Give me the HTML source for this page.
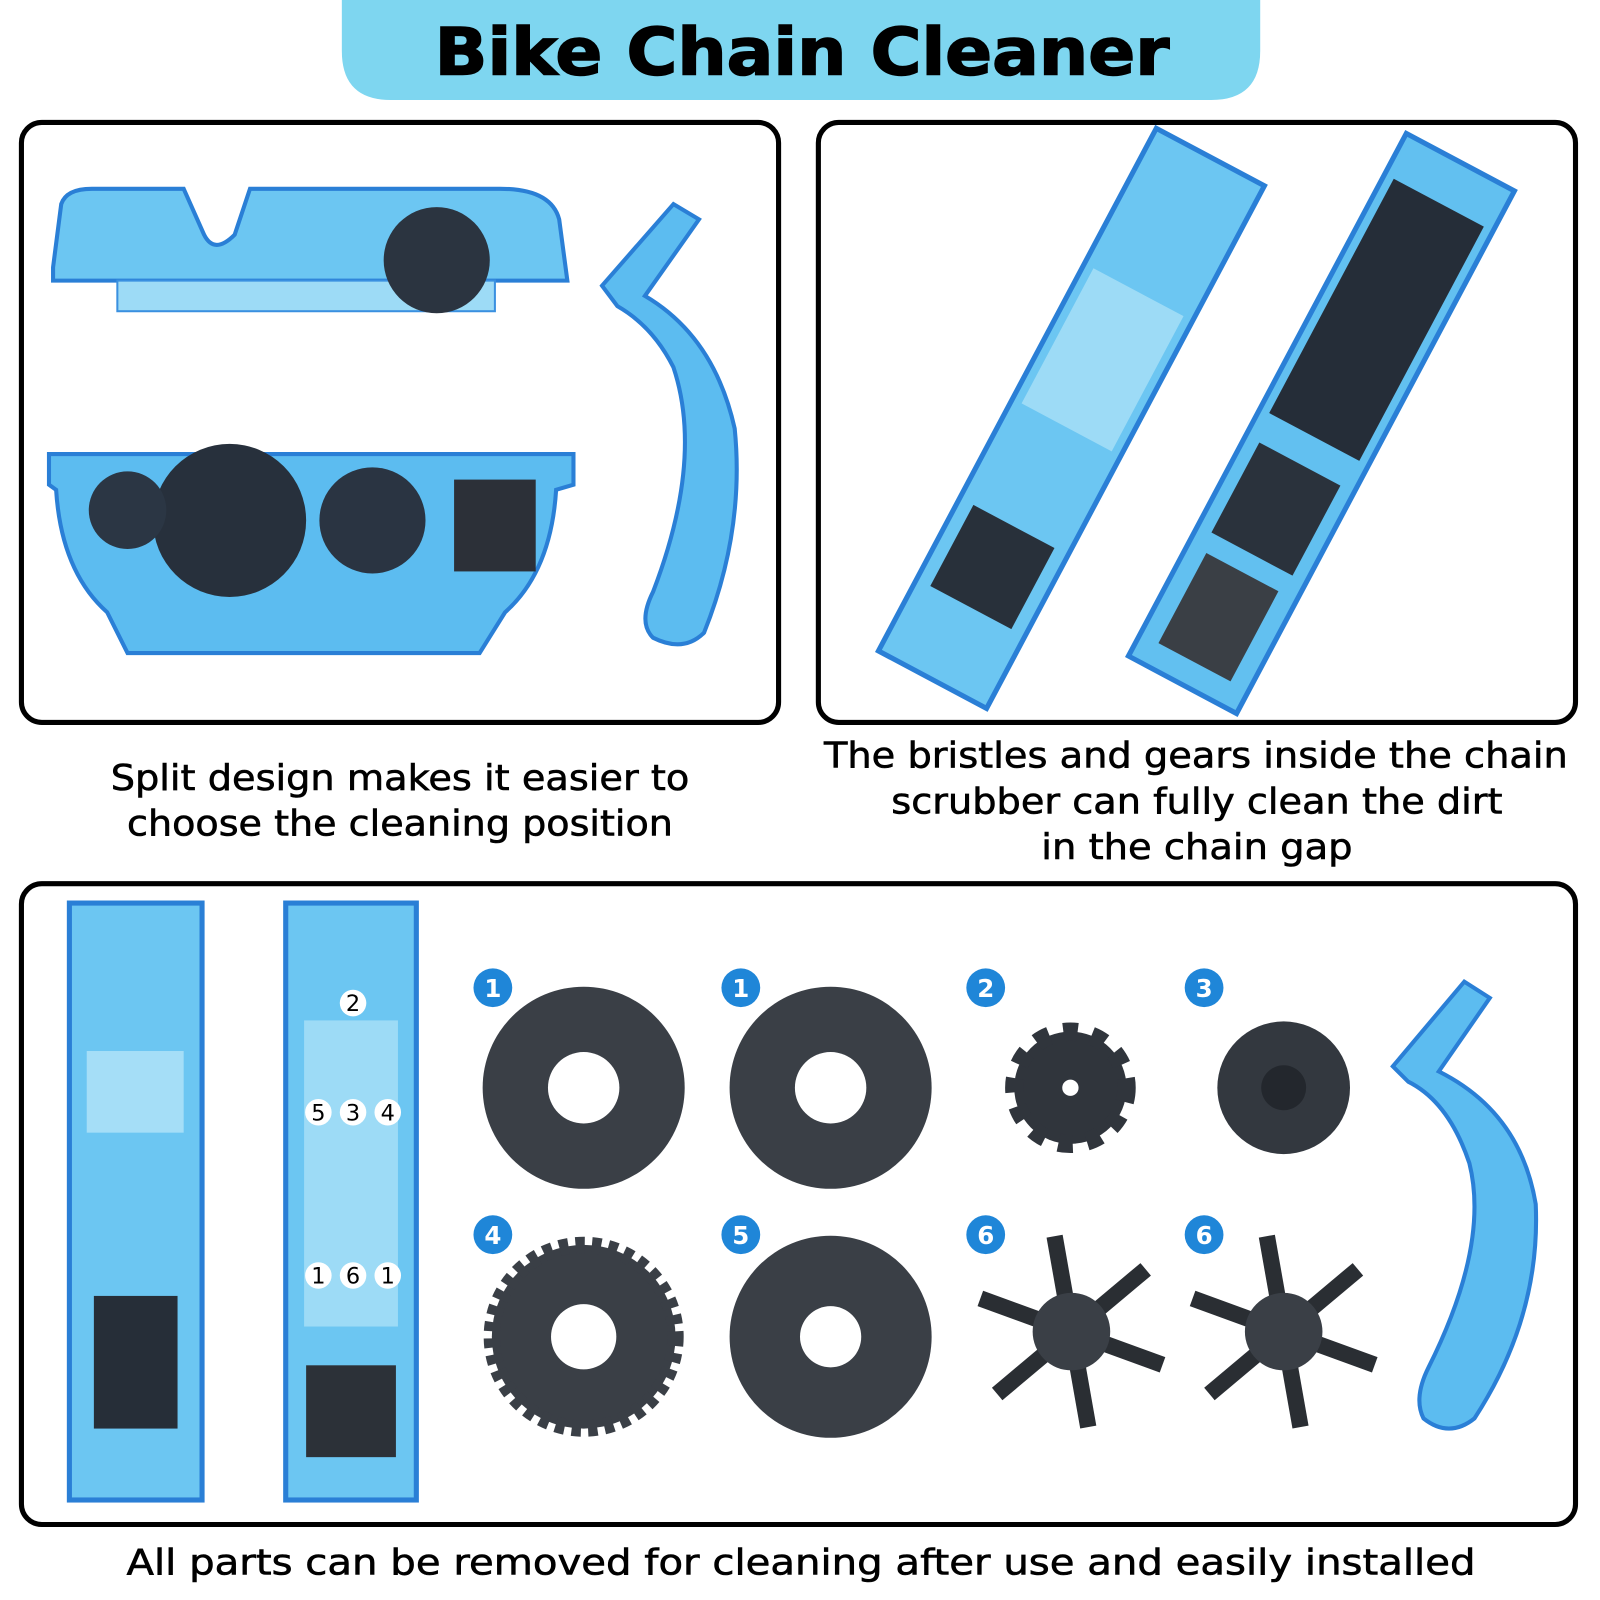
<!DOCTYPE html>
<html><head><meta charset="utf-8"><style>
html,body{margin:0;padding:0;background:#fff;width:1600px;height:1600px;overflow:hidden}
svg{display:block}
text{font-family:"DejaVu Sans","Liberation Sans",sans-serif}
</style></head><body>
<svg width="1600" height="1600" viewBox="0 0 1568 1568" xmlns="http://www.w3.org/2000/svg">
<!-- banner -->
<path d="M335 0 H1235 V50 Q1235 98 1187 98 H383 Q335 98 335 50 Z" fill="#7ed6f0"/>
<text x="786" y="73" text-anchor="middle" font-size="64" font-weight="bold" fill="#000" textLength="720" lengthAdjust="spacingAndGlyphs" stroke="#000" stroke-width="1.5">Bike Chain Cleaner</text>

<!-- panels -->
<rect x="21" y="120" width="742" height="588" rx="20" fill="#fff" stroke="#000" stroke-width="5"/>
<rect x="802" y="120" width="742" height="588" rx="20" fill="#fff" stroke="#000" stroke-width="5"/>
<rect x="21" y="866" width="1523" height="628" rx="20" fill="#fff" stroke="#000" stroke-width="5"/>

<!-- panel 1 contents -->
<path d="M52 262 L60 200 Q65 185 90 185 H180 L200 230 Q210 250 230 230 L245 185 H490 Q540 185 548 215 L556 275 H52 Z" fill="#6cc6f2" stroke="#2a7fd6" stroke-width="4"/>
<rect x="115" y="275" width="370" height="30" fill="#9ddbf6" stroke="#3a90e0" stroke-width="2"/>
<circle cx="428" cy="255" r="52" fill="#2b3440"/>
<path d="M48 445 H562 V475 L545 480 Q540 560 495 600 L470 640 H125 L105 600 Q60 560 55 480 L48 475 Z" fill="#5cbcf0" stroke="#2a7fd6" stroke-width="4"/>
<circle cx="225" cy="510" r="75" fill="#27303c"/>
<circle cx="365" cy="510" r="52" fill="#2a3442"/>
<circle cx="125" cy="500" r="38" fill="#2b3644"/>
<rect x="445" y="470" width="80" height="90" fill="#2c3038"/>
<path d="M590 280 L660 200 L685 215 L632 290 Q700 330 720 420 Q730 520 690 620 Q670 640 640 625 Q625 610 640 580 Q690 450 660 360 Q640 320 605 300 Z" fill="#5cbcf0" stroke="#2a7fd6" stroke-width="4"/>

<!-- panel 2 contents -->
<g transform="rotate(28 1050 410)">
<rect x="990" y="120" width="120" height="580" fill="#6cc6f2" stroke="#2a7fd6" stroke-width="5"/>
<rect x="1000" y="270" width="100" height="150" fill="#9ddbf6"/>
<rect x="1005" y="530" width="90" height="90" fill="#28303a"/>
</g>
<g transform="rotate(28 1295 415)">
<rect x="1235" y="125" width="120" height="580" fill="#62c0f0" stroke="#2a7fd6" stroke-width="5"/>
<rect x="1245" y="170" width="100" height="260" fill="#252d38"/>
<rect x="1250" y="460" width="90" height="100" fill="#2a323c"/>
<rect x="1255" y="580" width="80" height="100" fill="#3a3f45"/>
</g>

<!-- captions -->
<g font-size="35" fill="#000" text-anchor="middle" stroke="#000" stroke-width="0.6" lengthAdjust="spacingAndGlyphs">
<text x="392" y="774" textLength="567" lengthAdjust="spacingAndGlyphs">Split design makes it easier to</text>
<text x="392" y="819" textLength="535" lengthAdjust="spacingAndGlyphs">choose the cleaning position</text>
<text x="1172" y="752" textLength="729" lengthAdjust="spacingAndGlyphs">The bristles and gears inside the chain</text>
<text x="1173" y="797" textLength="599" lengthAdjust="spacingAndGlyphs">scrubber can fully clean the dirt</text>
<text x="1173" y="842" textLength="305" lengthAdjust="spacingAndGlyphs">in the chain gap</text>
<text x="785" y="1543" textLength="1322" lengthAdjust="spacingAndGlyphs">All parts can be removed for cleaning after use and easily installed</text>
</g>

<!-- panel 3 trays -->
<rect x="68" y="885" width="130" height="585" fill="#6cc6f2" stroke="#2a7fd6" stroke-width="5"/>
<rect x="85" y="1030" width="95" height="80" fill="#a5def7"/>
<rect x="92" y="1270" width="82" height="130" fill="#262e38"/>
<rect x="280" y="885" width="128" height="585" fill="#6cc6f2" stroke="#2a7fd6" stroke-width="5"/>
<rect x="298" y="1000" width="92" height="300" fill="#9ddbf6"/>
<rect x="300" y="1338" width="88" height="90" fill="#2c3138"/>
<g font-size="22" text-anchor="middle" fill="#000">
<circle cx="346" cy="983" r="13" fill="#fff"/><text x="346" y="991">2</text>
<circle cx="312" cy="1090" r="13" fill="#fff"/><text x="312" y="1098">5</text>
<circle cx="346" cy="1090" r="13" fill="#fff"/><text x="346" y="1098">3</text>
<circle cx="380" cy="1090" r="13" fill="#fff"/><text x="380" y="1098">4</text>
<circle cx="312" cy="1250" r="13" fill="#fff"/><text x="312" y="1258">1</text>
<circle cx="346" cy="1250" r="13" fill="#fff"/><text x="346" y="1258">6</text>
<circle cx="380" cy="1250" r="13" fill="#fff"/><text x="380" y="1258">1</text>
</g>

<!-- parts -->
<circle cx="572" cy="1066" r="99" fill="#3a3f46"/><circle cx="572" cy="1066" r="35" fill="#fff"/>
<circle cx="814" cy="1066" r="99" fill="#3a3f46"/><circle cx="814" cy="1066" r="35" fill="#fff"/>
<circle cx="1049" cy="1066" r="55" fill="#30353c" stroke="#30353c" stroke-width="18" stroke-dasharray="14 14"/><circle cx="1049" cy="1066" r="8" fill="#fff"/>
<circle cx="1258" cy="1066" r="65" fill="#33383f"/><circle cx="1258" cy="1066" r="22" fill="#23272d"/>
<circle cx="572" cy="1310" r="90" fill="#3a3f46" stroke="#3a3f46" stroke-width="16" stroke-dasharray="9 7"/><circle cx="572" cy="1310" r="32" fill="#fff"/>
<circle cx="814" cy="1310" r="99" fill="#3a3f46"/><circle cx="814" cy="1310" r="30" fill="#fff"/>
<g stroke="#2a2e33" stroke-width="16">
<line x1="955" y1="1305" x2="1145" y2="1305" transform="rotate(20 1050 1305)"/>
<line x1="955" y1="1305" x2="1145" y2="1305" transform="rotate(80 1050 1305)"/>
<line x1="955" y1="1305" x2="1145" y2="1305" transform="rotate(140 1050 1305)"/>
<line x1="1163" y1="1305" x2="1353" y2="1305" transform="rotate(20 1258 1305)"/>
<line x1="1163" y1="1305" x2="1353" y2="1305" transform="rotate(80 1258 1305)"/>
<line x1="1163" y1="1305" x2="1353" y2="1305" transform="rotate(140 1258 1305)"/>
</g>
<circle cx="1050" cy="1305" r="38" fill="#3a3f46"/><circle cx="1258" cy="1305" r="38" fill="#3a3f46"/>
<path d="M1365 1045 L1435 962 L1460 978 L1410 1050 Q1490 1090 1505 1180 Q1510 1290 1445 1390 Q1420 1410 1395 1390 Q1385 1370 1400 1340 Q1460 1220 1440 1140 Q1420 1080 1380 1060 Z" fill="#5cbcf0" stroke="#2a7fd6" stroke-width="4"/>

<!-- badges -->
<g font-size="24" font-weight="bold" text-anchor="middle" fill="#fff">
<circle cx="483" cy="968" r="19" fill="#1f86d8"/><text x="483" y="977">1</text>
<circle cx="726" cy="968" r="19" fill="#1f86d8"/><text x="726" y="977">1</text>
<circle cx="966" cy="968" r="19" fill="#1f86d8"/><text x="966" y="977">2</text>
<circle cx="1180" cy="968" r="19" fill="#1f86d8"/><text x="1180" y="977">3</text>
<circle cx="483" cy="1210" r="19" fill="#1f86d8"/><text x="483" y="1219">4</text>
<circle cx="726" cy="1210" r="19" fill="#1f86d8"/><text x="726" y="1219">5</text>
<circle cx="966" cy="1210" r="19" fill="#1f86d8"/><text x="966" y="1219">6</text>
<circle cx="1180" cy="1210" r="19" fill="#1f86d8"/><text x="1180" y="1219">6</text>
</g>
</svg>
</body></html>
